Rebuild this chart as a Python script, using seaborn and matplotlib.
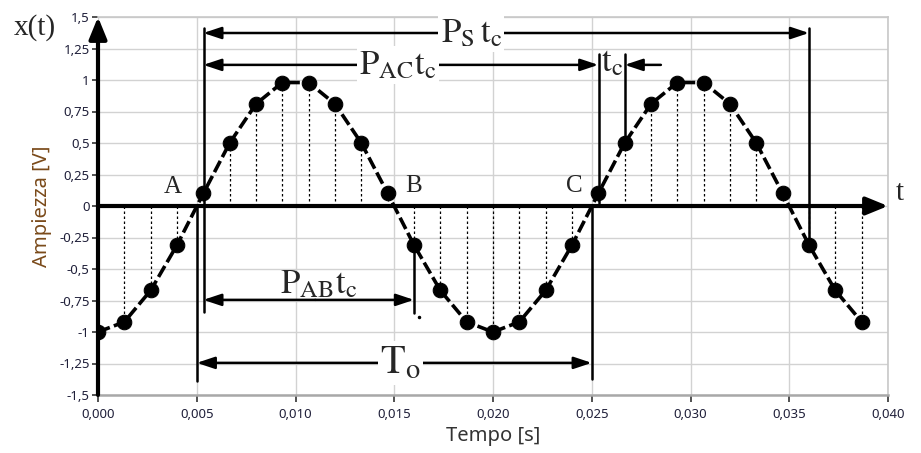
import matplotlib
matplotlib.use("Agg")
import matplotlib.pyplot as plt
import seaborn as sns
import pandas as pd

# ---- data ----
sample_times = [0.0, 0.001333, 0.002667, 0.004, 0.005333, 0.006667, 0.008, 0.009333,
                0.010667, 0.012, 0.013333, 0.014667, 0.016, 0.017333, 0.018667, 0.020,
                0.021333, 0.022667, 0.024, 0.025333, 0.026667, 0.028, 0.029333, 0.030667,
                0.032, 0.033333, 0.034667, 0.036, 0.037333, 0.038667]
amplitudes = [-1.0, -0.92, -0.67, -0.31, 0.10, 0.50, 0.81, 0.98,
              0.98, 0.81, 0.50, 0.10, -0.31, -0.67, -0.92, -1.0,
              -0.92, -0.67, -0.31, 0.10, 0.50, 0.81, 0.98, 0.98,
              0.81, 0.50, 0.10, -0.31, -0.67, -0.92]
x_ticks = [0.000, 0.005, 0.010, 0.015, 0.020, 0.025, 0.030, 0.035, 0.040]
x_tick_labels = ["0,000", "0,005", "0,010", "0,015", "0,020", "0,025", "0,030", "0,035", "0,040"]
y_ticks = [-1.5, -1.25, -1.0, -0.75, -0.5, -0.25, 0.0, 0.25, 0.5, 0.75, 1.0, 1.25, 1.5]
y_tick_labels = ["-1,5", "-1,25", "-1", "-0,75", "-0,5", "-0,25", "0", "0,25", "0,5", "0,75", "1", "1,25", "1,5"]

df = pd.DataFrame({"Tempo": sample_times, "Ampiezza": amplitudes})

sns.set_theme(style="whitegrid")
plt.rcParams["font.family"] = ["Noto Sans", "DejaVu Sans"]
plt.rcParams["mathtext.fontset"] = "stix"

fig = plt.figure(figsize=(9.21, 4.53), dpi=100)
ax = fig.add_axes([98 / 921, 1 - 395 / 453, (888 - 98) / 921, (395 - 17) / 453])

ax.set_xlim(0, 0.040)
ax.set_ylim(-1.5, 1.5)
ax.set_facecolor("white")
ax.grid(True, color="#d2d2d2", linewidth=1.0)
ax.set_axisbelow(True)

# dotted stems
ax.vlines(df["Tempo"], 0, df["Ampiezza"], colors="black", linestyles=(0, (2, 2)), linewidth=0.9, zorder=2)

# dashed curve with markers
sns.lineplot(data=df, x="Tempo", y="Ampiezza", ax=ax, color="black", linewidth=2.6,
             linestyle=(0, (3.5, 1.2)), marker="o", markersize=10.5, markeredgecolor="black",
             zorder=4, legend=False)

# spines
for s in ["top", "right"]:
    ax.spines[s].set_color("#c8c8c8")
    ax.spines[s].set_linewidth(1.2)
ax.spines["bottom"].set_color("#a8a8a8")
ax.spines["bottom"].set_linewidth(1.8)
ax.spines["left"].set_visible(False)

tick_color = "#20203a"
ax.set_xticks(x_ticks)
ax.set_xticklabels(x_tick_labels)
ax.set_yticks(y_ticks)
ax.set_yticklabels(y_tick_labels)
ax.tick_params(axis="x", direction="out", length=5, width=1.2, color="#333333",
               labelsize=9.5, labelcolor=tick_color, pad=4, bottom=True)
ax.tick_params(axis="y", direction="out", length=4, width=1.2, color="#333333",
               labelsize=9.5, labelcolor=tick_color, pad=2, left=True)

ax.set_xlabel("Tempo [s]", fontsize=14.5, color="#333333", labelpad=4)
ax.set_ylabel("Ampiezza [V]", fontsize=14.5, color="#7a4a1a", labelpad=5)

# ---- axis arrows ----
arrow_kw = dict(arrowstyle="-|>,head_length=1.1,head_width=0.45", color="black", lw=3,
                shrinkA=0, shrinkB=0)
ax.annotate("", xy=(0.0, 1.5), xytext=(0.0, -1.5), arrowprops=arrow_kw, zorder=6,
            annotation_clip=False)
ax.annotate("", xy=(0.040, 0.0), xytext=(0.0, 0.0), arrowprops=arrow_kw, zorder=6,
            annotation_clip=False)

serif = "Liberation Serif"
ax.text(-0.0032, 1.42, "x(t)", fontsize=21, family=serif, ha="center", va="center")
ax.text(0.0406, 0.10, "t", fontsize=21, family=serif, ha="center", va="center")
ax.text(0.0038, 0.15, "A", fontsize=18, family=serif, ha="center", va="center")
ax.text(0.0160, 0.16, "B", fontsize=18, family=serif, ha="center", va="center")
ax.text(0.0241, 0.16, "C", fontsize=18, family=serif, ha="center", va="center")

# ---- measurement annotations ----
lw = 1.8
head = "-|>,head_length=0.9,head_width=0.3"
tA, tB, tC, tC1, tS = sample_times[4], sample_times[12], sample_times[19], sample_times[20], sample_times[27]

# vertical reference lines
ax.plot([tA + 0.00003, tA + 0.00003], [1.41, -0.84], color="black", lw=lw, zorder=5)
ax.plot([0.005, 0.005], [0.0, -1.39], color="black", lw=lw, zorder=5)
ax.plot([tS, tS], [1.41, amplitudes[27]], color="black", lw=lw, zorder=5)
ax.plot([tC + 0.00003, tC + 0.00003], [1.21, 0.02], color="black", lw=lw, zorder=5)
ax.plot([0.0250, 0.0250], [0.0, -1.37], color="black", lw=lw, zorder=5)
ax.plot([tC1, tC1], [1.21, amplitudes[20]], color="black", lw=lw, zorder=5)
ax.plot([tB, tB], [amplitudes[12], -0.85], color="black", lw=lw, zorder=5)
ax.plot([tB + 0.00025], [-0.88], marker="o", markersize=1.5, color="black", zorder=5)


def arrow(x_from, x_to, y):
    ax.annotate("", xy=(x_to, y), xytext=(x_from, y),
                arrowprops=dict(arrowstyle=head, color="black", lw=lw, shrinkA=0, shrinkB=0), zorder=5)


def dim(x0, x1, y, label, xl, fs):
    arrow(xl, x0, y)
    arrow(xl, x1, y)
    ax.text(xl, y, label, fontsize=fs, ha="center", va="center", zorder=7,
            bbox=dict(facecolor="white", edgecolor="none", pad=1.5))


dim(tA, tS, 1.373, r"$\mathrm{P_{S}\,t_{c}}$", 0.0189, 25)
dim(tA, tC, 1.12, r"$\mathrm{P_{AC}t_{c}}$", 0.0152, 25)
dim(0.005, 0.025, -1.245, r"$\mathrm{T_{o}}$", 0.0153, 29)

# P_AB: continuous arrow with label above
arrow(0.011, tA, -0.745)
arrow(0.011, tB, -0.745)
ax.text(0.0112, -0.62, r"$\mathrm{P_{AB}t_{c}}$", fontsize=25, ha="center", va="center", zorder=7)

# t_c arrow pointing left
arrow(0.0285, tC1, 1.12)
ax.text((tC + tC1) / 2 + 0.00003, 1.14, r"$\mathrm{t_{c}}$", fontsize=25, ha="center", va="center", zorder=7)

fig.savefig("out.png", dpi=100)
